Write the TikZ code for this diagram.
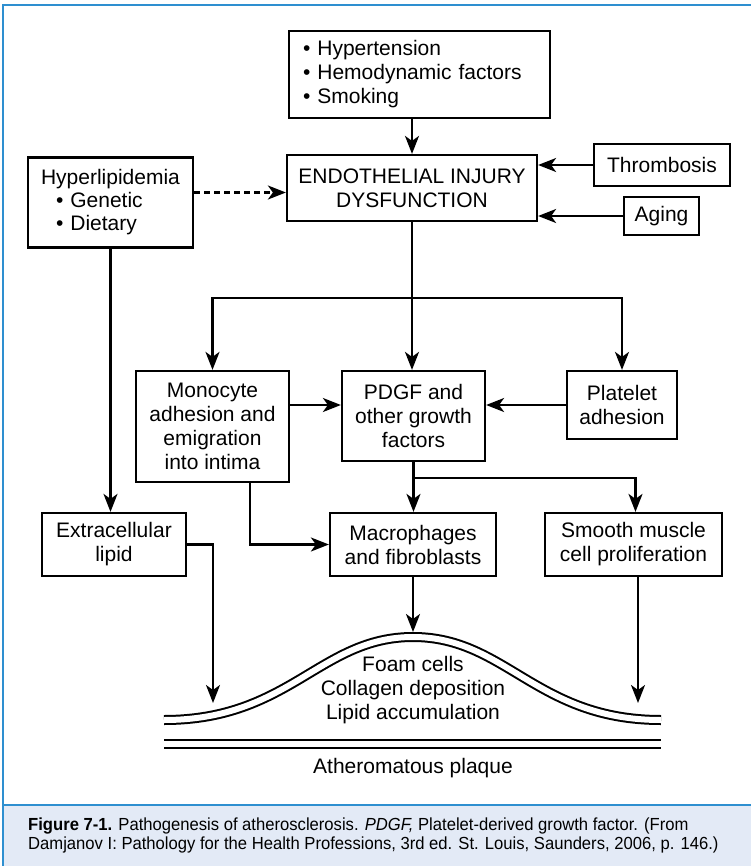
\documentclass[tikz,border=0pt]{standalone}
\usepackage{fontspec}
\setmainfont{Liberation Sans}
\newfontfamily\capfont{Liberation Sans}[FakeStretch=0.95]
\usetikzlibrary{arrows.meta}
\definecolor{frameblue}{HTML}{2E8FD0}
\definecolor{capfill}{HTML}{E3EAF6}

\begin{document}
\begin{tikzpicture}[x=1pt, y=-1pt,
    main/.style = {draw, line width=2.2pt, inner sep=0pt, align=center, font=\fontsize{21}{24}\selectfont},
    arr/.style = {line width=2.2pt, -{Stealth[length=18pt, width=14pt, inset=5pt]}},
    wall/.style = {line width=2pt, double, double distance=6pt},
    txt/.style = {inner sep=0pt, align=center, font=\fontsize{21}{24}\selectfont}]
\useasboundingbox (0,0) rectangle (751,866);
% frame and caption band
\fill[capfill] (3,805) rectangle (751,866);
\draw[frameblue, line width=2pt] (3,866) -- (3,5) -- (751,5);
\draw[frameblue, line width=2pt] (3,805) -- (751,805);
\node[anchor=west, inner sep=0pt, align=left, font=\capfont\fontsize{17.5}{19.5}\selectfont] (caption) at (28,835.5)
  {\textbf{Figure 7-1.} Pathogenesis of atherosclerosis. \textit{PDGF,} Platelet-derived growth factor. (From\\
   Damjanov I: Pathology for the Health Professions, 3rd ed. St. Louis, Saunders, 2006, p. 146.)};

% boxes
\node[main, minimum height=87pt, text width=233pt, inner xsep=14pt, align=left] (risk) at (419.5,74.5)
  {• Hypertension\\• Hemodynamic factors\\• Smoking};
\node[main, minimum width=250pt, minimum height=66pt] (endo) at (412,188) {ENDOTHELIAL INJURY\\DYSFUNCTION};
\node[main, minimum width=136pt, minimum height=42pt] (thromb) at (662,165) {Thrombosis};
\node[main, minimum width=75pt, minimum height=38pt] (aging) at (661.5,216) {Aging};
\node[main, minimum height=90pt, text width=139pt, inner xsep=13pt, align=left, font=\fontsize{21}{23}\selectfont] (hyper) at (110.5,202.5)
  {Hyperlipidemia\\\hspace*{15pt}• Genetic\\\hspace*{15pt}• Dietary};
\node[main, minimum width=153pt, minimum height=111pt] (mono) at (212.5,426.5) {Monocyte\\adhesion and\\emigration\\into intima};
\node[main, minimum width=143pt, minimum height=90pt] (pdgf) at (413.5,416) {PDGF and\\other growth\\factors};
\node[main, minimum width=110pt, minimum height=68pt] (plate) at (622,405) {Platelet\\adhesion};
\node[main, minimum width=144pt, minimum height=63pt] (extra) at (114,544.5) {Extracellular\\lipid};
\node[main, minimum width=166pt, minimum height=63pt] (macro) at (413,544.5) {Macrophages\\and fibroblasts};
\node[main, minimum width=177pt, minimum height=63pt] (smooth) at (633.5,544.5) {Smooth muscle\\cell proliferation};

% plaque
\draw[wall] (164,720) .. controls (290,720) and (320,637) .. (413,637)
  .. controls (506,637) and (536,720) .. (661,720);
\draw[wall] (164,744) -- (661,744);
\node[txt] (plaque) at (413,690) {Foam cells\\Collagen deposition\\Lipid accumulation};
\node[txt] (athero) at (413,768) {Atheromatous plaque};
\coordinate (peak) at (413,632);
\coordinate (lend) at (213,703);
\coordinate (rend) at (638,703);
\coordinate (split) at (412,298);
\coordinate (split2) at (413.5,478);

% connectors
\draw[arr] (risk.south -| endo.north) -- (endo.north);
\draw[arr] (thromb.west) -- (thromb.west -| endo.east);
\draw[arr] (aging.west) -- (aging.west -| endo.east);
\draw[arr, dash pattern=on 6pt off 4pt] ([yshift=10pt]hyper.east) -- ([yshift=10pt]hyper.east -| endo.west);
\draw[arr] (endo.south) -- (endo.south |- pdgf.north);
\draw[arr] (split) -| (mono.north);
\draw[arr] (split) -| (plate.north);
\draw[arr] (mono.east |- plate.west) -- (plate.west -| pdgf.west);
\draw[arr] (plate.west) -- (plate.west -| pdgf.east);
\draw[arr] (hyper.south) -- (hyper.south |- extra.north);
\draw[arr] (pdgf.south) -- (pdgf.south |- macro.north);
\draw[arr] (split2) -| ([xshift=2pt]smooth.north);
\draw[arr] ([xshift=37.5pt]mono.south) |- (macro.west);
\draw[arr] (extra.east) -| (lend);
\draw[arr] (macro.south) -- (peak);
\draw[arr] (rend |- smooth.south) -- (rend);
\end{tikzpicture}
\end{document}
